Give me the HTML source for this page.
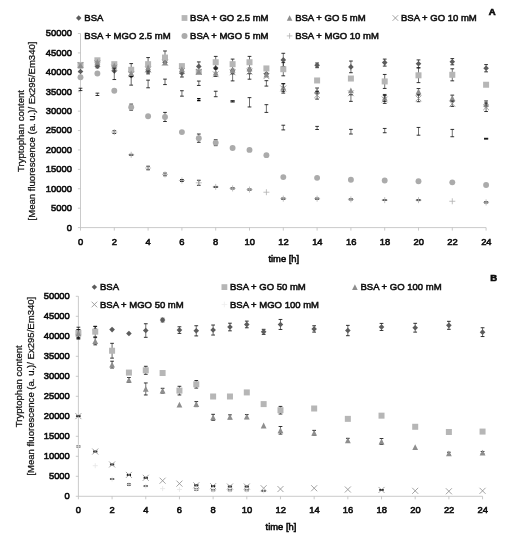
<!DOCTYPE html>
<html lang="en">
<head>
<meta charset="utf-8">
<title>Tryptophan content</title>
<style>
html,body{margin:0;padding:0;background:#fff;}
body{width:528px;height:550px;overflow:hidden;}
svg{display:block;}
text{font-family:'Liberation Sans', Arial, sans-serif;fill:#111;}
.tk{font-size:9.4px;stroke:#111;stroke-width:0.6px;}
.lg{font-size:9.5px;stroke:#111;stroke-width:0.55px;}
.xt{font-size:9.4px;stroke:#111;stroke-width:0.6px;}
.ax{font-size:9.55px;stroke:#111;stroke-width:0.25px;}
.pl{font-size:9.5px;font-weight:bold;stroke:#111;stroke-width:0.7px;}
</style>
</head>
<body>
<svg width="528" height="550" viewBox="0 0 528 550">
<defs><filter id="soft" x="0" y="0" width="100%" height="100%" filterUnits="userSpaceOnUse"><feGaussianBlur stdDeviation="0.35"/></filter></defs>
<rect width="528" height="550" fill="#fff"/>
<g filter="url(#soft)">
<path d="M80.50 33.50V227.60H486.10" stroke="#bcbcbc" stroke-width="0.8" fill="none"/>
<path d="M77.90 227.60H80.50M77.90 208.19H80.50M77.90 188.78H80.50M77.90 169.37H80.50M77.90 149.96H80.50M77.90 130.55H80.50M77.90 111.14H80.50M77.90 91.73H80.50M77.90 72.32H80.50M77.90 52.91H80.50M77.90 33.50H80.50M80.50 227.60V230.60M114.30 227.60V230.60M148.10 227.60V230.60M181.90 227.60V230.60M215.70 227.60V230.60M249.50 227.60V230.60M283.30 227.60V230.60M317.10 227.60V230.60M350.90 227.60V230.60M384.70 227.60V230.60M418.50 227.60V230.60M452.30 227.60V230.60M486.10 227.60V230.60" stroke="#bcbcbc" stroke-width="0.8" fill="none"/>
<text x="71.90" y="230.50" text-anchor="end" class="tk">0</text>
<text x="71.90" y="211.09" text-anchor="end" class="tk">5000</text>
<text x="71.90" y="191.68" text-anchor="end" class="tk">10000</text>
<text x="71.90" y="172.27" text-anchor="end" class="tk">15000</text>
<text x="71.90" y="152.86" text-anchor="end" class="tk">20000</text>
<text x="71.90" y="133.45" text-anchor="end" class="tk">25000</text>
<text x="71.90" y="114.04" text-anchor="end" class="tk">30000</text>
<text x="71.90" y="94.63" text-anchor="end" class="tk">35000</text>
<text x="71.90" y="75.22" text-anchor="end" class="tk">40000</text>
<text x="71.90" y="55.81" text-anchor="end" class="tk">45000</text>
<text x="71.90" y="36.40" text-anchor="end" class="tk">50000</text>
<text x="80.50" y="244.50" text-anchor="middle" class="tk">0</text>
<text x="114.30" y="244.50" text-anchor="middle" class="tk">2</text>
<text x="148.10" y="244.50" text-anchor="middle" class="tk">4</text>
<text x="181.90" y="244.50" text-anchor="middle" class="tk">6</text>
<text x="215.70" y="244.50" text-anchor="middle" class="tk">8</text>
<text x="249.75" y="244.50" text-anchor="middle" class="tk">10</text>
<text x="283.55" y="244.50" text-anchor="middle" class="tk">12</text>
<text x="317.35" y="244.50" text-anchor="middle" class="tk">14</text>
<text x="351.15" y="244.50" text-anchor="middle" class="tk">16</text>
<text x="384.95" y="244.50" text-anchor="middle" class="tk">18</text>
<text x="418.75" y="244.50" text-anchor="middle" class="tk">20</text>
<text x="452.55" y="244.50" text-anchor="middle" class="tk">22</text>
<text x="486.35" y="244.50" text-anchor="middle" class="tk">24</text>
<text x="283.80" y="261.70" text-anchor="middle" class="xt">time [h]</text>
<text transform="translate(23.5 131.00) rotate(-90)" text-anchor="middle" class="ax">Tryptophan content</text>
<text transform="translate(35.4 131.00) rotate(-90)" text-anchor="middle" class="ax">[Mean fluorescence (a. u.)/ Ex295/Em340]</text>
<path d="M80.50 68.74L83.30 71.54L80.50 74.34L77.70 71.54Z" fill="#5c5c5c"/>
<path d="M97.40 64.71V67.82" stroke="#101010" stroke-width="0.6" fill="none"/>
<path d="M95.55 64.71H99.25M95.55 67.82H99.25" stroke="#101010" stroke-width="0.85" fill="none"/>
<path d="M97.40 63.46L100.20 66.26L97.40 69.06L94.60 66.26Z" fill="#5c5c5c"/>
<path d="M114.30 68.16L117.10 70.96L114.30 73.76L111.50 70.96Z" fill="#5c5c5c"/>
<path d="M131.20 73.01L134.00 75.81L131.20 78.61L128.40 75.81Z" fill="#5c5c5c"/>
<path d="M148.10 69.21V73.87" stroke="#101010" stroke-width="0.6" fill="none"/>
<path d="M146.25 69.21H149.95M146.25 73.87H149.95" stroke="#101010" stroke-width="0.85" fill="none"/>
<path d="M148.10 68.74L150.90 71.54L148.10 74.34L145.30 71.54Z" fill="#5c5c5c"/>
<path d="M165.00 59.43L167.80 62.23L165.00 65.03L162.20 62.23Z" fill="#5c5c5c"/>
<path d="M181.90 69.21V76.98" stroke="#101010" stroke-width="0.6" fill="none"/>
<path d="M180.05 69.21H183.75M180.05 76.98H183.75" stroke="#101010" stroke-width="0.85" fill="none"/>
<path d="M181.90 70.30L184.70 73.10L181.90 75.90L179.10 73.10Z" fill="#5c5c5c"/>
<path d="M198.80 61.92V70.84" stroke="#101010" stroke-width="0.6" fill="none"/>
<path d="M196.95 61.92H200.65M196.95 70.84H200.65" stroke="#101010" stroke-width="0.85" fill="none"/>
<path d="M198.80 63.58L201.60 66.38L198.80 69.18L196.00 66.38Z" fill="#5c5c5c"/>
<path d="M215.70 65.25L218.50 68.05L215.70 70.85L212.90 68.05Z" fill="#5c5c5c"/>
<path d="M232.60 67.97L235.40 70.77L232.60 73.57L229.80 70.77Z" fill="#5c5c5c"/>
<path d="M249.50 67.19L252.30 69.99L249.50 72.79L246.70 69.99Z" fill="#5c5c5c"/>
<path d="M266.40 71.07L269.20 73.87L266.40 76.67L263.60 73.87Z" fill="#5c5c5c"/>
<path d="M283.30 53.30V66.50" stroke="#101010" stroke-width="0.6" fill="none"/>
<path d="M281.45 53.30H285.15M281.45 66.50H285.15" stroke="#101010" stroke-width="0.85" fill="none"/>
<path d="M283.30 57.10L286.10 59.90L283.30 62.70L280.50 59.90Z" fill="#5c5c5c"/>
<path d="M317.10 63.00V67.66" stroke="#101010" stroke-width="0.6" fill="none"/>
<path d="M315.25 63.00H318.95M315.25 67.66H318.95" stroke="#101010" stroke-width="0.85" fill="none"/>
<path d="M317.10 62.53L319.90 65.33L317.10 68.13L314.30 65.33Z" fill="#5c5c5c"/>
<path d="M350.90 61.06V72.71" stroke="#101010" stroke-width="0.6" fill="none"/>
<path d="M349.05 61.06H352.75M349.05 72.71H352.75" stroke="#101010" stroke-width="0.85" fill="none"/>
<path d="M350.90 64.09L353.70 66.89L350.90 69.69L348.10 66.89Z" fill="#5c5c5c"/>
<path d="M384.70 59.12V66.11" stroke="#101010" stroke-width="0.6" fill="none"/>
<path d="M382.85 59.12H386.55M382.85 66.11H386.55" stroke="#101010" stroke-width="0.85" fill="none"/>
<path d="M384.70 59.81L387.50 62.61L384.70 65.41L381.90 62.61Z" fill="#5c5c5c"/>
<path d="M418.50 59.90V67.66" stroke="#101010" stroke-width="0.6" fill="none"/>
<path d="M416.65 59.90H420.35M416.65 67.66H420.35" stroke="#101010" stroke-width="0.85" fill="none"/>
<path d="M418.50 60.98L421.30 63.78L418.50 66.58L415.70 63.78Z" fill="#5c5c5c"/>
<path d="M452.30 58.58V64.79" stroke="#101010" stroke-width="0.6" fill="none"/>
<path d="M450.45 58.58H454.15M450.45 64.79H454.15" stroke="#101010" stroke-width="0.85" fill="none"/>
<path d="M452.30 58.88L455.10 61.68L452.30 64.48L449.50 61.68Z" fill="#5c5c5c"/>
<path d="M486.10 64.59V71.82" stroke="#101010" stroke-width="0.6" fill="none"/>
<path d="M484.25 64.59H487.95M484.25 71.82H487.95" stroke="#101010" stroke-width="0.85" fill="none"/>
<path d="M486.10 65.41L488.90 68.21L486.10 71.01L483.30 68.21Z" fill="#5c5c5c"/>
<rect x="77.50" y="61.94" width="6.00" height="6.00" fill="#b6b6b6"/>
<rect x="94.40" y="57.29" width="6.00" height="6.00" fill="#b6b6b6"/>
<rect x="111.30" y="61.17" width="6.00" height="6.00" fill="#b6b6b6"/>
<path d="M131.20 63.59V76.01" stroke="#101010" stroke-width="0.6" fill="none"/>
<path d="M129.35 63.59H133.05M129.35 76.01H133.05" stroke="#101010" stroke-width="0.85" fill="none"/>
<rect x="128.20" y="66.80" width="6.00" height="6.00" fill="#b6b6b6"/>
<path d="M148.10 57.57V70.77" stroke="#101010" stroke-width="0.6" fill="none"/>
<path d="M146.25 57.57H149.95M146.25 70.77H149.95" stroke="#101010" stroke-width="0.85" fill="none"/>
<rect x="145.10" y="61.17" width="6.00" height="6.00" fill="#b6b6b6"/>
<path d="M165.00 50.97V64.17" stroke="#101010" stroke-width="0.6" fill="none"/>
<path d="M163.15 50.97H166.85M163.15 64.17H166.85" stroke="#101010" stroke-width="0.85" fill="none"/>
<rect x="162.00" y="54.57" width="6.00" height="6.00" fill="#b6b6b6"/>
<rect x="178.90" y="63.11" width="6.00" height="6.00" fill="#b6b6b6"/>
<rect x="195.80" y="68.82" width="6.00" height="6.00" fill="#b6b6b6"/>
<path d="M215.70 56.40V68.05" stroke="#101010" stroke-width="0.6" fill="none"/>
<path d="M213.85 56.40H217.55M213.85 68.05H217.55" stroke="#101010" stroke-width="0.85" fill="none"/>
<rect x="212.70" y="59.23" width="6.00" height="6.00" fill="#b6b6b6"/>
<path d="M232.60 59.12V69.21" stroke="#101010" stroke-width="0.6" fill="none"/>
<path d="M230.75 59.12H234.45M230.75 69.21H234.45" stroke="#101010" stroke-width="0.85" fill="none"/>
<rect x="229.60" y="61.17" width="6.00" height="6.00" fill="#b6b6b6"/>
<path d="M249.50 56.40V68.05" stroke="#101010" stroke-width="0.6" fill="none"/>
<path d="M247.65 56.40H251.35M247.65 68.05H251.35" stroke="#101010" stroke-width="0.85" fill="none"/>
<rect x="246.50" y="59.23" width="6.00" height="6.00" fill="#b6b6b6"/>
<rect x="263.40" y="65.44" width="6.00" height="6.00" fill="#b6b6b6"/>
<path d="M283.30 62.61V75.81" stroke="#101010" stroke-width="0.6" fill="none"/>
<path d="M281.45 62.61H285.15M281.45 75.81H285.15" stroke="#101010" stroke-width="0.85" fill="none"/>
<rect x="280.30" y="66.21" width="6.00" height="6.00" fill="#b6b6b6"/>
<rect x="314.10" y="77.47" width="6.00" height="6.00" fill="#b6b6b6"/>
<rect x="347.90" y="75.53" width="6.00" height="6.00" fill="#b6b6b6"/>
<path d="M384.70 74.46V88.43" stroke="#101010" stroke-width="0.6" fill="none"/>
<path d="M382.85 74.46H386.55M382.85 88.43H386.55" stroke="#101010" stroke-width="0.85" fill="none"/>
<rect x="381.70" y="78.44" width="6.00" height="6.00" fill="#b6b6b6"/>
<path d="M418.50 68.01V82.61" stroke="#101010" stroke-width="0.6" fill="none"/>
<path d="M416.65 68.01H420.35M416.65 82.61H420.35" stroke="#101010" stroke-width="0.85" fill="none"/>
<rect x="415.50" y="72.31" width="6.00" height="6.00" fill="#b6b6b6"/>
<path d="M452.30 68.79V80.82" stroke="#101010" stroke-width="0.6" fill="none"/>
<path d="M450.45 68.79H454.15M450.45 80.82H454.15" stroke="#101010" stroke-width="0.85" fill="none"/>
<rect x="449.30" y="71.80" width="6.00" height="6.00" fill="#b6b6b6"/>
<rect x="483.10" y="81.74" width="6.00" height="6.00" fill="#b6b6b6"/>
<path d="M80.50 62.82L83.40 68.62H77.60Z" fill="#8e8e8e"/>
<path d="M97.40 58.94L100.30 64.74H94.50Z" fill="#8e8e8e"/>
<path d="M114.30 62.82L117.20 68.62H111.40Z" fill="#8e8e8e"/>
<path d="M131.20 70.20L134.10 76.00H128.30Z" fill="#8e8e8e"/>
<path d="M148.10 64.37L151.00 70.17H145.20Z" fill="#8e8e8e"/>
<path d="M165.00 59.71L167.90 65.51H162.10Z" fill="#8e8e8e"/>
<path d="M181.90 66.31L184.80 72.11H179.00Z" fill="#8e8e8e"/>
<path d="M198.80 68.64L201.70 74.44H195.90Z" fill="#8e8e8e"/>
<path d="M215.70 69.02V76.40" stroke="#101010" stroke-width="0.6" fill="none"/>
<path d="M213.85 69.02H217.55M213.85 76.40H217.55" stroke="#101010" stroke-width="0.85" fill="none"/>
<path d="M215.70 69.81L218.60 75.61H212.80Z" fill="#8e8e8e"/>
<path d="M232.60 66.94L235.50 72.74H229.70Z" fill="#8e8e8e"/>
<path d="M249.50 65.62L252.40 71.42H246.60Z" fill="#8e8e8e"/>
<path d="M266.40 71.59L269.30 77.39H263.50Z" fill="#8e8e8e"/>
<path d="M283.30 83.58V91.34" stroke="#101010" stroke-width="0.6" fill="none"/>
<path d="M281.45 83.58H285.15M281.45 91.34H285.15" stroke="#101010" stroke-width="0.85" fill="none"/>
<path d="M283.30 84.56L286.20 90.36H280.40Z" fill="#8e8e8e"/>
<path d="M317.10 88.00V93.75" stroke="#101010" stroke-width="0.6" fill="none"/>
<path d="M315.25 88.00H318.95M315.25 93.75H318.95" stroke="#101010" stroke-width="0.85" fill="none"/>
<path d="M317.10 87.98L320.00 93.78H314.20Z" fill="#8e8e8e"/>
<path d="M350.90 87.47L353.80 93.27H348.00Z" fill="#8e8e8e"/>
<path d="M384.70 94.45V101.43" stroke="#101010" stroke-width="0.6" fill="none"/>
<path d="M382.85 94.45H386.55M382.85 101.43H386.55" stroke="#101010" stroke-width="0.85" fill="none"/>
<path d="M384.70 95.04L387.60 100.84H381.80Z" fill="#8e8e8e"/>
<path d="M418.50 88.55V94.29" stroke="#101010" stroke-width="0.6" fill="none"/>
<path d="M416.65 88.55H420.35M416.65 94.29H420.35" stroke="#101010" stroke-width="0.85" fill="none"/>
<path d="M418.50 88.52L421.40 94.32H415.60Z" fill="#8e8e8e"/>
<path d="M452.30 95.15V100.89" stroke="#101010" stroke-width="0.6" fill="none"/>
<path d="M450.45 95.15H454.15M450.45 100.89H454.15" stroke="#101010" stroke-width="0.85" fill="none"/>
<path d="M452.30 95.12L455.20 100.92H449.40Z" fill="#8e8e8e"/>
<path d="M486.10 100.93V106.68" stroke="#101010" stroke-width="0.6" fill="none"/>
<path d="M484.25 100.93H487.95M484.25 106.68H487.95" stroke="#101010" stroke-width="0.85" fill="none"/>
<path d="M486.10 100.90L489.00 106.70H483.20Z" fill="#8e8e8e"/>
<path d="M77.60 62.04L83.40 67.84M77.60 67.84L83.40 62.04" stroke="#8c8c8c" stroke-width="0.8" fill="none"/>
<path d="M94.50 60.49L100.30 66.29M94.50 66.29L100.30 60.49" stroke="#8c8c8c" stroke-width="0.8" fill="none"/>
<path d="M111.40 64.76L117.20 70.56M111.40 70.56L117.20 64.76" stroke="#8c8c8c" stroke-width="0.8" fill="none"/>
<path d="M128.30 71.36L134.10 77.16M128.30 77.16L134.10 71.36" stroke="#8c8c8c" stroke-width="0.8" fill="none"/>
<path d="M145.20 66.70L151.00 72.50M145.20 72.50L151.00 66.70" stroke="#8c8c8c" stroke-width="0.8" fill="none"/>
<path d="M162.10 59.68L167.90 65.48M162.10 65.48L167.90 59.68" stroke="#8c8c8c" stroke-width="0.8" fill="none"/>
<path d="M179.00 68.26L184.80 74.06M179.00 74.06L184.80 68.26" stroke="#8c8c8c" stroke-width="0.8" fill="none"/>
<path d="M195.90 69.03L201.70 74.83M195.90 74.83L201.70 69.03" stroke="#8c8c8c" stroke-width="0.8" fill="none"/>
<path d="M212.80 71.36L218.60 77.16M212.80 77.16L218.60 71.36" stroke="#8c8c8c" stroke-width="0.8" fill="none"/>
<path d="M229.70 69.42L235.50 75.22M229.70 75.22L235.50 69.42" stroke="#8c8c8c" stroke-width="0.8" fill="none"/>
<path d="M246.60 68.64L252.40 74.44M246.60 74.44L252.40 68.64" stroke="#8c8c8c" stroke-width="0.8" fill="none"/>
<path d="M263.50 73.30L269.30 79.10M263.50 79.10L269.30 73.30" stroke="#8c8c8c" stroke-width="0.8" fill="none"/>
<path d="M283.30 83.81V93.13" stroke="#101010" stroke-width="0.6" fill="none"/>
<path d="M281.45 83.81H285.15M281.45 93.13H285.15" stroke="#101010" stroke-width="0.85" fill="none"/>
<path d="M280.40 85.57L286.20 91.37M280.40 91.37L286.20 85.57" stroke="#8c8c8c" stroke-width="0.8" fill="none"/>
<path d="M317.10 91.34V99.11" stroke="#101010" stroke-width="0.6" fill="none"/>
<path d="M315.25 91.34H318.95M315.25 99.11H318.95" stroke="#101010" stroke-width="0.85" fill="none"/>
<path d="M314.20 92.32L320.00 98.12M314.20 98.12L320.00 92.32" stroke="#8c8c8c" stroke-width="0.8" fill="none"/>
<path d="M348.00 90.38L353.80 96.18M348.00 96.18L353.80 90.38" stroke="#8c8c8c" stroke-width="0.8" fill="none"/>
<path d="M384.70 95.61V103.38" stroke="#101010" stroke-width="0.6" fill="none"/>
<path d="M382.85 95.61H386.55M382.85 103.38H386.55" stroke="#101010" stroke-width="0.85" fill="none"/>
<path d="M381.80 96.59L387.60 102.39M381.80 102.39L387.60 96.59" stroke="#8c8c8c" stroke-width="0.8" fill="none"/>
<path d="M418.50 95.11V101.71" stroke="#101010" stroke-width="0.6" fill="none"/>
<path d="M416.65 95.11H420.35M416.65 101.71H420.35" stroke="#101010" stroke-width="0.85" fill="none"/>
<path d="M415.60 95.51L421.40 101.31M415.60 101.31L421.40 95.51" stroke="#8c8c8c" stroke-width="0.8" fill="none"/>
<path d="M452.30 101.12V106.40" stroke="#101010" stroke-width="0.6" fill="none"/>
<path d="M450.45 101.12H454.15M450.45 106.40H454.15" stroke="#101010" stroke-width="0.85" fill="none"/>
<path d="M449.40 100.86L455.20 106.66M449.40 106.66L455.20 100.86" stroke="#8c8c8c" stroke-width="0.8" fill="none"/>
<path d="M486.10 102.99V111.53" stroke="#101010" stroke-width="0.6" fill="none"/>
<path d="M484.25 102.99H487.95M484.25 111.53H487.95" stroke="#101010" stroke-width="0.85" fill="none"/>
<path d="M483.20 104.36L489.00 110.16M483.20 110.16L489.00 104.36" stroke="#8c8c8c" stroke-width="0.8" fill="none"/>
<path d="M198.80 81.09V85.44" stroke="#101010" stroke-width="0.6" fill="none"/>
<path d="M196.95 81.09H200.65M196.95 85.44H200.65" stroke="#101010" stroke-width="0.85" fill="none"/>
<path d="M232.60 73.87V80.86" stroke="#101010" stroke-width="0.6" fill="none"/>
<path d="M230.75 73.87H234.45M230.75 80.86H234.45" stroke="#101010" stroke-width="0.85" fill="none"/>
<path d="M249.50 73.76V79.19" stroke="#101010" stroke-width="0.6" fill="none"/>
<path d="M247.65 73.76H251.35M247.65 79.19H251.35" stroke="#101010" stroke-width="0.85" fill="none"/>
<path d="M266.40 80.67V86.10" stroke="#101010" stroke-width="0.6" fill="none"/>
<path d="M264.55 80.67H268.25M264.55 86.10H268.25" stroke="#101010" stroke-width="0.85" fill="none"/>
<path d="M350.90 94.76V101.36" stroke="#101010" stroke-width="0.6" fill="none"/>
<path d="M349.05 94.76H352.75M349.05 101.36H352.75" stroke="#101010" stroke-width="0.85" fill="none"/>
<path d="M80.50 88.24V90.57" stroke="#101010" stroke-width="0.6" fill="none"/>
<path d="M78.65 88.24H82.35M78.65 90.57H82.35" stroke="#101010" stroke-width="0.85" fill="none"/>
<path d="M97.40 93.17V95.50" stroke="#101010" stroke-width="0.6" fill="none"/>
<path d="M95.55 93.17H99.25M95.55 95.50H99.25" stroke="#101010" stroke-width="0.85" fill="none"/>
<path d="M114.30 68.21V79.54" stroke="#101010" stroke-width="0.6" fill="none"/>
<path d="M112.45 68.21H116.15M112.45 79.54H116.15" stroke="#101010" stroke-width="0.85" fill="none"/>
<path d="M131.20 76.59V85.13" stroke="#101010" stroke-width="0.6" fill="none"/>
<path d="M129.35 76.59H133.05M129.35 85.13H133.05" stroke="#101010" stroke-width="0.85" fill="none"/>
<path d="M148.10 80.16V87.77" stroke="#101010" stroke-width="0.6" fill="none"/>
<path d="M146.25 80.16H149.95M146.25 87.77H149.95" stroke="#101010" stroke-width="0.85" fill="none"/>
<path d="M165.00 79.15V84.59" stroke="#101010" stroke-width="0.6" fill="none"/>
<path d="M163.15 79.15H166.85M163.15 84.59H166.85" stroke="#101010" stroke-width="0.85" fill="none"/>
<path d="M181.90 90.72V96.16" stroke="#101010" stroke-width="0.6" fill="none"/>
<path d="M180.05 90.72H183.75M180.05 96.16H183.75" stroke="#101010" stroke-width="0.85" fill="none"/>
<path d="M198.80 98.72V100.50" stroke="#000" stroke-width="0.6" fill="none"/>
<path d="M197.10 98.72H200.50M197.10 100.50H200.50" stroke="#000" stroke-width="1.25" fill="none"/>
<path d="M215.70 91.26V96.70" stroke="#101010" stroke-width="0.6" fill="none"/>
<path d="M213.85 91.26H217.55M213.85 96.70H217.55" stroke="#101010" stroke-width="0.85" fill="none"/>
<path d="M232.60 100.78V101.94" stroke="#000" stroke-width="0.6" fill="none"/>
<path d="M230.50 100.78H234.70M230.50 101.94H234.70" stroke="#000" stroke-width="1.0" fill="none"/>
<path d="M249.50 97.63V106.95" stroke="#101010" stroke-width="0.6" fill="none"/>
<path d="M247.65 97.63H251.35M247.65 106.95H251.35" stroke="#101010" stroke-width="0.85" fill="none"/>
<path d="M266.40 104.66V112.42" stroke="#101010" stroke-width="0.6" fill="none"/>
<path d="M264.55 104.66H268.25M264.55 112.42H268.25" stroke="#101010" stroke-width="0.85" fill="none"/>
<path d="M283.30 125.23V129.89" stroke="#101010" stroke-width="0.6" fill="none"/>
<path d="M281.45 125.23H285.15M281.45 129.89H285.15" stroke="#101010" stroke-width="0.85" fill="none"/>
<path d="M317.10 126.40V129.50" stroke="#101010" stroke-width="0.6" fill="none"/>
<path d="M315.25 126.40H318.95M315.25 129.50H318.95" stroke="#101010" stroke-width="0.85" fill="none"/>
<path d="M350.90 129.39V134.04" stroke="#101010" stroke-width="0.6" fill="none"/>
<path d="M349.05 129.39H352.75M349.05 134.04H352.75" stroke="#101010" stroke-width="0.85" fill="none"/>
<path d="M384.70 128.45V132.72" stroke="#101010" stroke-width="0.6" fill="none"/>
<path d="M382.85 128.45H386.55M382.85 132.72H386.55" stroke="#101010" stroke-width="0.85" fill="none"/>
<path d="M418.50 127.44V135.21" stroke="#101010" stroke-width="0.6" fill="none"/>
<path d="M416.65 127.44H420.35M416.65 135.21H420.35" stroke="#101010" stroke-width="0.85" fill="none"/>
<path d="M452.30 129.42V136.72" stroke="#101010" stroke-width="0.6" fill="none"/>
<path d="M450.45 129.42H454.15M450.45 136.72H454.15" stroke="#101010" stroke-width="0.85" fill="none"/>
<path d="M486.10 138.31V139.09" stroke="#000" stroke-width="0.6" fill="none"/>
<path d="M484.00 138.31H488.20M484.00 139.09H488.20" stroke="#000" stroke-width="1.0" fill="none"/>
<circle cx="80.50" cy="77.21" r="2.95" fill="#ababab"/>
<circle cx="97.40" cy="73.48" r="2.95" fill="#ababab"/>
<circle cx="114.30" cy="90.76" r="2.95" fill="#ababab"/>
<path d="M131.20 104.11V110.17" stroke="#101010" stroke-width="0.6" fill="none"/>
<path d="M129.35 104.11H133.05M129.35 110.17H133.05" stroke="#101010" stroke-width="0.85" fill="none"/>
<circle cx="131.20" cy="107.14" r="2.95" fill="#ababab"/>
<circle cx="148.10" cy="116.23" r="2.95" fill="#ababab"/>
<path d="M165.00 112.42V121.50" stroke="#101010" stroke-width="0.6" fill="none"/>
<path d="M163.15 112.42H166.85M163.15 121.50H166.85" stroke="#101010" stroke-width="0.85" fill="none"/>
<circle cx="165.00" cy="116.96" r="2.95" fill="#ababab"/>
<circle cx="181.90" cy="132.10" r="2.95" fill="#ababab"/>
<path d="M198.80 134.00V142.31" stroke="#101010" stroke-width="0.6" fill="none"/>
<path d="M196.95 134.00H200.65M196.95 142.31H200.65" stroke="#101010" stroke-width="0.85" fill="none"/>
<circle cx="198.80" cy="138.16" r="2.95" fill="#ababab"/>
<path d="M215.70 139.75V145.65" stroke="#101010" stroke-width="0.6" fill="none"/>
<path d="M213.85 139.75H217.55M213.85 145.65H217.55" stroke="#101010" stroke-width="0.85" fill="none"/>
<circle cx="215.70" cy="142.70" r="2.95" fill="#ababab"/>
<circle cx="232.60" cy="147.98" r="2.95" fill="#ababab"/>
<circle cx="249.50" cy="149.88" r="2.95" fill="#ababab"/>
<circle cx="266.40" cy="155.16" r="2.95" fill="#ababab"/>
<circle cx="283.30" cy="177.10" r="2.95" fill="#ababab"/>
<circle cx="317.10" cy="177.87" r="2.95" fill="#ababab"/>
<circle cx="350.90" cy="179.73" r="2.95" fill="#ababab"/>
<circle cx="384.70" cy="180.51" r="2.95" fill="#ababab"/>
<circle cx="418.50" cy="181.25" r="2.95" fill="#ababab"/>
<circle cx="452.30" cy="182.37" r="2.95" fill="#ababab"/>
<circle cx="486.10" cy="185.05" r="2.95" fill="#ababab"/>
<path d="M114.30 130.74V133.46" stroke="#101010" stroke-width="0.6" fill="none"/>
<path d="M112.45 130.74H116.15M112.45 133.46H116.15" stroke="#101010" stroke-width="0.85" fill="none"/>
<path d="M111.30 132.10H117.30M114.30 129.10V135.10" stroke="#b0b0b0" stroke-width="0.8" fill="none"/>
<path d="M131.20 154.35V155.20" stroke="#000" stroke-width="0.6" fill="none"/>
<path d="M129.10 154.35H133.30M129.10 155.20H133.30" stroke="#000" stroke-width="1.0" fill="none"/>
<path d="M128.20 154.77H134.20M131.20 151.77V157.77" stroke="#b0b0b0" stroke-width="0.8" fill="none"/>
<path d="M148.10 166.26V169.76" stroke="#101010" stroke-width="0.6" fill="none"/>
<path d="M146.25 166.26H149.95M146.25 169.76H149.95" stroke="#101010" stroke-width="0.85" fill="none"/>
<path d="M145.10 168.01H151.10M148.10 165.01V171.01" stroke="#b0b0b0" stroke-width="0.8" fill="none"/>
<path d="M165.00 173.06V175.78" stroke="#101010" stroke-width="0.6" fill="none"/>
<path d="M163.15 173.06H166.85M163.15 175.78H166.85" stroke="#101010" stroke-width="0.85" fill="none"/>
<path d="M162.00 174.42H168.00M165.00 171.42V177.42" stroke="#b0b0b0" stroke-width="0.8" fill="none"/>
<path d="M181.90 179.54V181.48" stroke="#000" stroke-width="0.6" fill="none"/>
<path d="M180.20 179.54H183.60M180.20 181.48H183.60" stroke="#000" stroke-width="1.25" fill="none"/>
<path d="M178.90 180.51H184.90M181.90 177.51V183.51" stroke="#b0b0b0" stroke-width="0.8" fill="none"/>
<path d="M198.80 180.28V185.33" stroke="#101010" stroke-width="0.6" fill="none"/>
<path d="M196.95 180.28H200.65M196.95 185.33H200.65" stroke="#101010" stroke-width="0.85" fill="none"/>
<path d="M195.80 182.80H201.80M198.80 179.80V185.80" stroke="#b0b0b0" stroke-width="0.8" fill="none"/>
<path d="M215.70 186.45V187.38" stroke="#000" stroke-width="0.6" fill="none"/>
<path d="M213.60 186.45H217.80M213.60 187.38H217.80" stroke="#000" stroke-width="1.0" fill="none"/>
<path d="M212.70 186.92H218.70M215.70 183.92V189.92" stroke="#b0b0b0" stroke-width="0.8" fill="none"/>
<path d="M232.60 187.96V188.90" stroke="#000" stroke-width="0.6" fill="none"/>
<path d="M230.50 187.96H234.70M230.50 188.90H234.70" stroke="#000" stroke-width="1.0" fill="none"/>
<path d="M229.60 188.43H235.60M232.60 185.43V191.43" stroke="#b0b0b0" stroke-width="0.8" fill="none"/>
<path d="M249.50 189.09V190.02" stroke="#000" stroke-width="0.6" fill="none"/>
<path d="M247.40 189.09H251.60M247.40 190.02H251.60" stroke="#000" stroke-width="1.0" fill="none"/>
<path d="M246.50 189.56H252.50M249.50 186.56V192.56" stroke="#b0b0b0" stroke-width="0.8" fill="none"/>
<path d="M263.40 192.23H269.40M266.40 189.23V195.23" stroke="#b0b0b0" stroke-width="0.8" fill="none"/>
<path d="M283.30 198.14V199.14" stroke="#000" stroke-width="0.6" fill="none"/>
<path d="M281.20 198.14H285.40M281.20 199.14H285.40" stroke="#000" stroke-width="1.0" fill="none"/>
<path d="M280.30 198.64H286.30M283.30 195.64V201.64" stroke="#b0b0b0" stroke-width="0.8" fill="none"/>
<path d="M317.10 198.17V199.11" stroke="#000" stroke-width="0.6" fill="none"/>
<path d="M315.00 198.17H319.20M315.00 199.11H319.20" stroke="#000" stroke-width="1.0" fill="none"/>
<path d="M314.10 198.64H320.10M317.10 195.64V201.64" stroke="#b0b0b0" stroke-width="0.8" fill="none"/>
<path d="M350.90 198.99V199.84" stroke="#000" stroke-width="0.6" fill="none"/>
<path d="M348.80 198.99H353.00M348.80 199.84H353.00" stroke="#000" stroke-width="1.0" fill="none"/>
<path d="M347.90 199.42H353.90M350.90 196.42V202.42" stroke="#b0b0b0" stroke-width="0.8" fill="none"/>
<path d="M384.70 199.80V200.50" stroke="#000" stroke-width="0.6" fill="none"/>
<path d="M382.60 199.80H386.80M382.60 200.50H386.80" stroke="#000" stroke-width="1.0" fill="none"/>
<path d="M381.70 200.15H387.70M384.70 197.15V203.15" stroke="#b0b0b0" stroke-width="0.8" fill="none"/>
<path d="M418.50 199.73V200.58" stroke="#000" stroke-width="0.6" fill="none"/>
<path d="M416.40 199.73H420.60M416.40 200.58H420.60" stroke="#000" stroke-width="1.0" fill="none"/>
<path d="M415.50 200.15H421.50M418.50 197.15V203.15" stroke="#b0b0b0" stroke-width="0.8" fill="none"/>
<path d="M449.30 201.28H455.30M452.30 198.28V204.28" stroke="#b0b0b0" stroke-width="0.8" fill="none"/>
<path d="M486.10 201.94V202.87" stroke="#000" stroke-width="0.6" fill="none"/>
<path d="M484.00 201.94H488.20M484.00 202.87H488.20" stroke="#000" stroke-width="1.0" fill="none"/>
<path d="M483.10 202.41H489.10M486.10 199.41V205.41" stroke="#b0b0b0" stroke-width="0.8" fill="none"/>
<path d="M78.70 15.30L81.40 18.00L78.70 20.70L76.00 18.00Z" fill="#5c5c5c"/>
<text x="84.30" y="21.30" class="lg">BSA</text>
<rect x="181.60" y="15.10" width="5.80" height="5.80" fill="#b6b6b6"/>
<text x="190.10" y="21.30" class="lg">BSA + GO 2.5 mM</text>
<path d="M289.60 15.20L292.40 20.80H286.80Z" fill="#8e8e8e"/>
<text x="295.20" y="21.30" class="lg">BSA + GO 5 mM</text>
<path d="M392.60 15.20L398.20 20.80M392.60 20.80L398.20 15.20" stroke="#8c8c8c" stroke-width="0.8" fill="none"/>
<text x="401.00" y="21.30" class="lg">BSA + GO 10 mM</text>
<text x="84.30" y="39.20" class="lg">BSA + MGO 2.5 mM</text>
<circle cx="184.50" cy="35.90" r="3.0" fill="#ababab"/>
<text x="190.10" y="39.20" class="lg">BSA + MGO 5 mM</text>
<path d="M286.80 35.90H292.40M289.60 33.10V38.70" stroke="#b0b0b0" stroke-width="0.8" fill="none"/>
<text x="295.20" y="39.20" class="lg">BSA + MGO 10 mM</text>
<text x="488.8" y="14.5" class="pl">A</text>
<path d="M78.40 296.30V496.30H482.56" stroke="#bcbcbc" stroke-width="0.8" fill="none"/>
<path d="M75.80 496.30H78.40M75.80 476.30H78.40M75.80 456.30H78.40M75.80 436.30H78.40M75.80 416.30H78.40M75.80 396.30H78.40M75.80 376.30H78.40M75.80 356.30H78.40M75.80 336.30H78.40M75.80 316.30H78.40M75.80 296.30H78.40M78.40 496.30V499.30M112.08 496.30V499.30M145.76 496.30V499.30M179.44 496.30V499.30M213.12 496.30V499.30M246.80 496.30V499.30M280.48 496.30V499.30M314.16 496.30V499.30M347.84 496.30V499.30M381.52 496.30V499.30M415.20 496.30V499.30M448.88 496.30V499.30M482.56 496.30V499.30" stroke="#bcbcbc" stroke-width="0.8" fill="none"/>
<text x="69.80" y="499.20" text-anchor="end" class="tk">0</text>
<text x="69.80" y="479.20" text-anchor="end" class="tk">5000</text>
<text x="69.80" y="459.20" text-anchor="end" class="tk">10000</text>
<text x="69.80" y="439.20" text-anchor="end" class="tk">15000</text>
<text x="69.80" y="419.20" text-anchor="end" class="tk">20000</text>
<text x="69.80" y="399.20" text-anchor="end" class="tk">25000</text>
<text x="69.80" y="379.20" text-anchor="end" class="tk">30000</text>
<text x="69.80" y="359.20" text-anchor="end" class="tk">35000</text>
<text x="69.80" y="339.20" text-anchor="end" class="tk">40000</text>
<text x="69.80" y="319.20" text-anchor="end" class="tk">45000</text>
<text x="69.80" y="299.20" text-anchor="end" class="tk">50000</text>
<text x="78.40" y="512.90" text-anchor="middle" class="tk">0</text>
<text x="112.08" y="512.90" text-anchor="middle" class="tk">2</text>
<text x="145.76" y="512.90" text-anchor="middle" class="tk">4</text>
<text x="179.44" y="512.90" text-anchor="middle" class="tk">6</text>
<text x="213.12" y="512.90" text-anchor="middle" class="tk">8</text>
<text x="247.05" y="512.90" text-anchor="middle" class="tk">10</text>
<text x="280.73" y="512.90" text-anchor="middle" class="tk">12</text>
<text x="314.41" y="512.90" text-anchor="middle" class="tk">14</text>
<text x="348.09" y="512.90" text-anchor="middle" class="tk">16</text>
<text x="381.77" y="512.90" text-anchor="middle" class="tk">18</text>
<text x="415.45" y="512.90" text-anchor="middle" class="tk">20</text>
<text x="449.13" y="512.90" text-anchor="middle" class="tk">22</text>
<text x="482.81" y="512.90" text-anchor="middle" class="tk">24</text>
<text x="280.98" y="529.80" text-anchor="middle" class="xt">time [h]</text>
<text transform="translate(22.0 386.20) rotate(-90)" text-anchor="middle" class="ax">Tryptophan content</text>
<text transform="translate(34.0 386.20) rotate(-90)" text-anchor="middle" class="ax">[Mean fluorescence (a. u.)/ Ex295/Em340]</text>
<path d="M78.40 329.50V339.10" stroke="#101010" stroke-width="0.6" fill="none"/>
<path d="M76.55 329.50H80.25M76.55 339.10H80.25" stroke="#101010" stroke-width="0.85" fill="none"/>
<path d="M78.40 331.50L81.20 334.30L78.40 337.10L75.60 334.30Z" fill="#5c5c5c"/>
<path d="M95.24 326.30V333.50" stroke="#101010" stroke-width="0.6" fill="none"/>
<path d="M93.39 326.30H97.09M93.39 333.50H97.09" stroke="#101010" stroke-width="0.85" fill="none"/>
<path d="M95.24 327.10L98.04 329.90L95.24 332.70L92.44 329.90Z" fill="#5c5c5c"/>
<path d="M112.08 326.82L114.88 329.62L112.08 332.42L109.28 329.62Z" fill="#5c5c5c"/>
<path d="M128.92 330.70L131.72 333.50L128.92 336.30L126.12 333.50Z" fill="#5c5c5c"/>
<path d="M145.76 323.74V337.34" stroke="#101010" stroke-width="0.6" fill="none"/>
<path d="M143.91 323.74H147.61M143.91 337.34H147.61" stroke="#101010" stroke-width="0.85" fill="none"/>
<path d="M145.76 327.74L148.56 330.54L145.76 333.34L142.96 330.54Z" fill="#5c5c5c"/>
<path d="M162.60 318.26V321.86" stroke="#101010" stroke-width="0.6" fill="none"/>
<path d="M160.75 318.26H164.45M160.75 321.86H164.45" stroke="#101010" stroke-width="0.85" fill="none"/>
<path d="M162.60 317.26L165.40 320.06L162.60 322.86L159.80 320.06Z" fill="#5c5c5c"/>
<path d="M179.44 326.78V333.42" stroke="#101010" stroke-width="0.6" fill="none"/>
<path d="M177.59 326.78H181.29M177.59 333.42H181.29" stroke="#101010" stroke-width="0.85" fill="none"/>
<path d="M179.44 327.30L182.24 330.10L179.44 332.90L176.64 330.10Z" fill="#5c5c5c"/>
<path d="M196.28 325.74V335.90" stroke="#101010" stroke-width="0.6" fill="none"/>
<path d="M194.43 325.74H198.13M194.43 335.90H198.13" stroke="#101010" stroke-width="0.85" fill="none"/>
<path d="M196.28 328.02L199.08 330.82L196.28 333.62L193.48 330.82Z" fill="#5c5c5c"/>
<path d="M213.12 325.06V335.06" stroke="#101010" stroke-width="0.6" fill="none"/>
<path d="M211.27 325.06H214.97M211.27 335.06H214.97" stroke="#101010" stroke-width="0.85" fill="none"/>
<path d="M213.12 327.26L215.92 330.06L213.12 332.86L210.32 330.06Z" fill="#5c5c5c"/>
<path d="M229.96 323.22V330.82" stroke="#101010" stroke-width="0.6" fill="none"/>
<path d="M228.11 323.22H231.81M228.11 330.82H231.81" stroke="#101010" stroke-width="0.85" fill="none"/>
<path d="M229.96 324.22L232.76 327.02L229.96 329.82L227.16 327.02Z" fill="#5c5c5c"/>
<path d="M246.80 321.14V327.78" stroke="#101010" stroke-width="0.6" fill="none"/>
<path d="M244.95 321.14H248.65M244.95 327.78H248.65" stroke="#101010" stroke-width="0.85" fill="none"/>
<path d="M246.80 321.66L249.60 324.46L246.80 327.26L244.00 324.46Z" fill="#5c5c5c"/>
<path d="M263.64 329.34V334.38" stroke="#101010" stroke-width="0.6" fill="none"/>
<path d="M261.79 329.34H265.49M261.79 334.38H265.49" stroke="#101010" stroke-width="0.85" fill="none"/>
<path d="M263.64 329.06L266.44 331.86L263.64 334.66L260.84 331.86Z" fill="#5c5c5c"/>
<path d="M280.48 319.46V329.46" stroke="#101010" stroke-width="0.6" fill="none"/>
<path d="M278.63 319.46H282.33M278.63 329.46H282.33" stroke="#101010" stroke-width="0.85" fill="none"/>
<path d="M280.48 321.66L283.28 324.46L280.48 327.26L277.68 324.46Z" fill="#5c5c5c"/>
<path d="M314.16 325.74V332.14" stroke="#101010" stroke-width="0.6" fill="none"/>
<path d="M312.31 325.74H316.01M312.31 332.14H316.01" stroke="#101010" stroke-width="0.85" fill="none"/>
<path d="M314.16 326.14L316.96 328.94L314.16 331.74L311.36 328.94Z" fill="#5c5c5c"/>
<path d="M347.84 325.38V335.70" stroke="#101010" stroke-width="0.6" fill="none"/>
<path d="M345.99 325.38H349.69M345.99 335.70H349.69" stroke="#101010" stroke-width="0.85" fill="none"/>
<path d="M347.84 327.74L350.64 330.54L347.84 333.34L345.04 330.54Z" fill="#5c5c5c"/>
<path d="M381.52 323.42V330.46" stroke="#101010" stroke-width="0.6" fill="none"/>
<path d="M379.67 323.42H383.37M379.67 330.46H383.37" stroke="#101010" stroke-width="0.85" fill="none"/>
<path d="M381.52 324.14L384.32 326.94L381.52 329.74L378.72 326.94Z" fill="#5c5c5c"/>
<path d="M415.20 323.34V332.14" stroke="#101010" stroke-width="0.6" fill="none"/>
<path d="M413.35 323.34H417.05M413.35 332.14H417.05" stroke="#101010" stroke-width="0.85" fill="none"/>
<path d="M415.20 324.94L418.00 327.74L415.20 330.54L412.40 327.74Z" fill="#5c5c5c"/>
<path d="M448.88 321.34V329.34" stroke="#101010" stroke-width="0.6" fill="none"/>
<path d="M447.03 321.34H450.73M447.03 329.34H450.73" stroke="#101010" stroke-width="0.85" fill="none"/>
<path d="M448.88 322.54L451.68 325.34L448.88 328.14L446.08 325.34Z" fill="#5c5c5c"/>
<path d="M482.56 327.74V336.54" stroke="#101010" stroke-width="0.6" fill="none"/>
<path d="M480.71 327.74H484.41M480.71 336.54H484.41" stroke="#101010" stroke-width="0.85" fill="none"/>
<path d="M482.56 329.34L485.36 332.14L482.56 334.94L479.76 332.14Z" fill="#5c5c5c"/>
<path d="M78.40 327.22V338.42" stroke="#101010" stroke-width="0.6" fill="none"/>
<path d="M76.55 327.22H80.25M76.55 338.42H80.25" stroke="#101010" stroke-width="0.85" fill="none"/>
<rect x="75.40" y="329.82" width="6.00" height="6.00" fill="#b6b6b6"/>
<path d="M95.24 326.46V336.86" stroke="#101010" stroke-width="0.6" fill="none"/>
<path d="M93.39 326.46H97.09M93.39 336.86H97.09" stroke="#101010" stroke-width="0.85" fill="none"/>
<rect x="92.24" y="328.66" width="6.00" height="6.00" fill="#b6b6b6"/>
<path d="M112.08 343.34V358.14" stroke="#101010" stroke-width="0.6" fill="none"/>
<path d="M110.23 343.34H113.93M110.23 358.14H113.93" stroke="#101010" stroke-width="0.85" fill="none"/>
<rect x="109.08" y="347.74" width="6.00" height="6.00" fill="#b6b6b6"/>
<rect x="125.92" y="369.58" width="6.00" height="6.00" fill="#b6b6b6"/>
<path d="M145.76 366.30V374.30" stroke="#101010" stroke-width="0.6" fill="none"/>
<path d="M143.91 366.30H147.61M143.91 374.30H147.61" stroke="#101010" stroke-width="0.85" fill="none"/>
<rect x="142.76" y="367.30" width="6.00" height="6.00" fill="#b6b6b6"/>
<rect x="159.60" y="370.02" width="6.00" height="6.00" fill="#b6b6b6"/>
<path d="M179.44 386.30V394.94" stroke="#101010" stroke-width="0.6" fill="none"/>
<path d="M177.59 386.30H181.29M177.59 394.94H181.29" stroke="#101010" stroke-width="0.85" fill="none"/>
<rect x="176.44" y="387.62" width="6.00" height="6.00" fill="#b6b6b6"/>
<path d="M196.28 380.50V388.10" stroke="#101010" stroke-width="0.6" fill="none"/>
<path d="M194.43 380.50H198.13M194.43 388.10H198.13" stroke="#101010" stroke-width="0.85" fill="none"/>
<rect x="193.28" y="381.30" width="6.00" height="6.00" fill="#b6b6b6"/>
<rect x="210.12" y="393.50" width="6.00" height="6.00" fill="#b6b6b6"/>
<rect x="226.96" y="393.50" width="6.00" height="6.00" fill="#b6b6b6"/>
<rect x="243.80" y="389.42" width="6.00" height="6.00" fill="#b6b6b6"/>
<rect x="260.64" y="401.10" width="6.00" height="6.00" fill="#b6b6b6"/>
<path d="M280.48 406.42V414.02" stroke="#101010" stroke-width="0.6" fill="none"/>
<path d="M278.63 406.42H282.33M278.63 414.02H282.33" stroke="#101010" stroke-width="0.85" fill="none"/>
<rect x="277.48" y="407.22" width="6.00" height="6.00" fill="#b6b6b6"/>
<rect x="311.16" y="405.50" width="6.00" height="6.00" fill="#b6b6b6"/>
<rect x="344.84" y="415.86" width="6.00" height="6.00" fill="#b6b6b6"/>
<rect x="378.52" y="412.66" width="6.00" height="6.00" fill="#b6b6b6"/>
<rect x="412.20" y="423.78" width="6.00" height="6.00" fill="#b6b6b6"/>
<rect x="445.88" y="428.98" width="6.00" height="6.00" fill="#b6b6b6"/>
<rect x="479.56" y="428.58" width="6.00" height="6.00" fill="#b6b6b6"/>
<path d="M78.40 329.50V337.50" stroke="#101010" stroke-width="0.6" fill="none"/>
<path d="M76.55 329.50H80.25M76.55 337.50H80.25" stroke="#101010" stroke-width="0.85" fill="none"/>
<path d="M78.40 330.60L81.30 336.40H75.50Z" fill="#8e8e8e"/>
<path d="M95.24 337.62V344.82" stroke="#101010" stroke-width="0.6" fill="none"/>
<path d="M93.39 337.62H97.09M93.39 344.82H97.09" stroke="#101010" stroke-width="0.85" fill="none"/>
<path d="M95.24 338.32L98.14 344.12H92.34Z" fill="#8e8e8e"/>
<path d="M112.08 361.22V368.02" stroke="#101010" stroke-width="0.6" fill="none"/>
<path d="M110.23 361.22H113.93M110.23 368.02H113.93" stroke="#101010" stroke-width="0.85" fill="none"/>
<path d="M112.08 361.72L114.98 367.52H109.18Z" fill="#8e8e8e"/>
<path d="M128.92 377.50V382.30" stroke="#101010" stroke-width="0.6" fill="none"/>
<path d="M127.07 377.50H130.77M127.07 382.30H130.77" stroke="#101010" stroke-width="0.85" fill="none"/>
<path d="M128.92 377.00L131.82 382.80H126.02Z" fill="#8e8e8e"/>
<path d="M145.76 382.94V394.94" stroke="#101010" stroke-width="0.6" fill="none"/>
<path d="M143.91 382.94H147.61M143.91 394.94H147.61" stroke="#101010" stroke-width="0.85" fill="none"/>
<path d="M145.76 386.04L148.66 391.84H142.86Z" fill="#8e8e8e"/>
<path d="M162.60 388.30V393.10" stroke="#101010" stroke-width="0.6" fill="none"/>
<path d="M160.75 388.30H164.45M160.75 393.10H164.45" stroke="#101010" stroke-width="0.85" fill="none"/>
<path d="M162.60 387.80L165.50 393.60H159.70Z" fill="#8e8e8e"/>
<path d="M179.44 401.72L182.34 407.52H176.54Z" fill="#8e8e8e"/>
<path d="M196.28 401.58V406.62" stroke="#101010" stroke-width="0.6" fill="none"/>
<path d="M194.43 401.58H198.13M194.43 406.62H198.13" stroke="#101010" stroke-width="0.85" fill="none"/>
<path d="M196.28 401.20L199.18 407.00H193.38Z" fill="#8e8e8e"/>
<path d="M213.12 414.34V420.34" stroke="#101010" stroke-width="0.6" fill="none"/>
<path d="M211.27 414.34H214.97M211.27 420.34H214.97" stroke="#101010" stroke-width="0.85" fill="none"/>
<path d="M213.12 414.44L216.02 420.24H210.22Z" fill="#8e8e8e"/>
<path d="M229.96 414.82V418.82" stroke="#101010" stroke-width="0.6" fill="none"/>
<path d="M228.11 414.82H231.81M228.11 418.82H231.81" stroke="#101010" stroke-width="0.85" fill="none"/>
<path d="M229.96 413.92L232.86 419.72H227.06Z" fill="#8e8e8e"/>
<path d="M246.80 414.58V418.58" stroke="#101010" stroke-width="0.6" fill="none"/>
<path d="M244.95 414.58H248.65M244.95 418.58H248.65" stroke="#101010" stroke-width="0.85" fill="none"/>
<path d="M246.80 413.68L249.70 419.48H243.90Z" fill="#8e8e8e"/>
<path d="M263.64 422.60L266.54 428.40H260.74Z" fill="#8e8e8e"/>
<path d="M280.48 426.50V434.10" stroke="#101010" stroke-width="0.6" fill="none"/>
<path d="M278.63 426.50H282.33M278.63 434.10H282.33" stroke="#101010" stroke-width="0.85" fill="none"/>
<path d="M280.48 427.40L283.38 433.20H277.58Z" fill="#8e8e8e"/>
<path d="M314.16 430.38V435.18" stroke="#101010" stroke-width="0.6" fill="none"/>
<path d="M312.31 430.38H316.01M312.31 435.18H316.01" stroke="#101010" stroke-width="0.85" fill="none"/>
<path d="M314.16 429.88L317.06 435.68H311.26Z" fill="#8e8e8e"/>
<path d="M347.84 438.34V442.34" stroke="#101010" stroke-width="0.6" fill="none"/>
<path d="M345.99 438.34H349.69M345.99 442.34H349.69" stroke="#101010" stroke-width="0.85" fill="none"/>
<path d="M347.84 437.44L350.74 443.24H344.94Z" fill="#8e8e8e"/>
<path d="M381.52 438.50V444.50" stroke="#101010" stroke-width="0.6" fill="none"/>
<path d="M379.67 438.50H383.37M379.67 444.50H383.37" stroke="#101010" stroke-width="0.85" fill="none"/>
<path d="M381.52 438.60L384.42 444.40H378.62Z" fill="#8e8e8e"/>
<path d="M415.20 444.16L418.10 449.96H412.30Z" fill="#8e8e8e"/>
<path d="M448.88 452.26V454.66" stroke="#101010" stroke-width="0.6" fill="none"/>
<path d="M447.03 452.26H450.73M447.03 454.66H450.73" stroke="#101010" stroke-width="0.85" fill="none"/>
<path d="M448.88 450.56L451.78 456.36H445.98Z" fill="#8e8e8e"/>
<path d="M482.56 451.46V453.86" stroke="#101010" stroke-width="0.6" fill="none"/>
<path d="M480.71 451.46H484.41M480.71 453.86H484.41" stroke="#101010" stroke-width="0.85" fill="none"/>
<path d="M482.56 449.76L485.46 455.56H479.66Z" fill="#8e8e8e"/>
<path d="M78.40 415.70V416.58" stroke="#000" stroke-width="0.6" fill="none"/>
<path d="M76.30 415.70H80.50M76.30 416.58H80.50" stroke="#000" stroke-width="1.0" fill="none"/>
<path d="M75.40 413.14L81.40 419.14M75.40 419.14L81.40 413.14" stroke="#8c8c8c" stroke-width="0.8" fill="none"/>
<path d="M95.24 451.10V451.98" stroke="#000" stroke-width="0.6" fill="none"/>
<path d="M93.14 451.10H97.34M93.14 451.98H97.34" stroke="#000" stroke-width="1.0" fill="none"/>
<path d="M92.24 448.54L98.24 454.54M92.24 454.54L98.24 448.54" stroke="#8c8c8c" stroke-width="0.8" fill="none"/>
<path d="M112.08 464.02V464.90" stroke="#000" stroke-width="0.6" fill="none"/>
<path d="M109.98 464.02H114.18M109.98 464.90H114.18" stroke="#000" stroke-width="1.0" fill="none"/>
<path d="M109.08 461.46L115.08 467.46M109.08 467.46L115.08 461.46" stroke="#8c8c8c" stroke-width="0.8" fill="none"/>
<path d="M128.92 474.42V475.38" stroke="#000" stroke-width="0.6" fill="none"/>
<path d="M126.82 474.42H131.02M126.82 475.38H131.02" stroke="#000" stroke-width="1.0" fill="none"/>
<path d="M125.92 471.90L131.92 477.90M125.92 477.90L131.92 471.90" stroke="#8c8c8c" stroke-width="0.8" fill="none"/>
<path d="M145.76 477.32V478.28" stroke="#000" stroke-width="0.6" fill="none"/>
<path d="M143.66 477.32H147.86M143.66 478.28H147.86" stroke="#000" stroke-width="1.0" fill="none"/>
<path d="M142.76 474.80L148.76 480.80M142.76 480.80L148.76 474.80" stroke="#8c8c8c" stroke-width="0.8" fill="none"/>
<path d="M159.60 477.70L165.60 483.70M159.60 483.70L165.60 477.70" stroke="#8c8c8c" stroke-width="0.8" fill="none"/>
<path d="M176.44 480.62L182.44 486.62M176.44 486.62L182.44 480.62" stroke="#8c8c8c" stroke-width="0.8" fill="none"/>
<path d="M196.28 484.82V485.78" stroke="#000" stroke-width="0.6" fill="none"/>
<path d="M194.18 484.82H198.38M194.18 485.78H198.38" stroke="#000" stroke-width="1.0" fill="none"/>
<path d="M193.28 482.30L199.28 488.30M193.28 488.30L199.28 482.30" stroke="#8c8c8c" stroke-width="0.8" fill="none"/>
<path d="M213.12 485.66V486.62" stroke="#000" stroke-width="0.6" fill="none"/>
<path d="M211.02 485.66H215.22M211.02 486.62H215.22" stroke="#000" stroke-width="1.0" fill="none"/>
<path d="M210.12 483.14L216.12 489.14M210.12 489.14L216.12 483.14" stroke="#8c8c8c" stroke-width="0.8" fill="none"/>
<path d="M229.96 486.10V486.98" stroke="#000" stroke-width="0.6" fill="none"/>
<path d="M227.86 486.10H232.06M227.86 486.98H232.06" stroke="#000" stroke-width="1.0" fill="none"/>
<path d="M226.96 483.54L232.96 489.54M226.96 489.54L232.96 483.54" stroke="#8c8c8c" stroke-width="0.8" fill="none"/>
<path d="M246.80 486.10V486.98" stroke="#000" stroke-width="0.6" fill="none"/>
<path d="M244.70 486.10H248.90M244.70 486.98H248.90" stroke="#000" stroke-width="1.0" fill="none"/>
<path d="M243.80 483.54L249.80 489.54M243.80 489.54L249.80 483.54" stroke="#8c8c8c" stroke-width="0.8" fill="none"/>
<path d="M260.64 485.22L266.64 491.22M260.64 491.22L266.64 485.22" stroke="#8c8c8c" stroke-width="0.8" fill="none"/>
<path d="M277.48 486.06L283.48 492.06M277.48 492.06L283.48 486.06" stroke="#8c8c8c" stroke-width="0.8" fill="none"/>
<path d="M311.16 485.22L317.16 491.22M311.16 491.22L317.16 485.22" stroke="#8c8c8c" stroke-width="0.8" fill="none"/>
<path d="M344.84 486.50L350.84 492.50M344.84 492.50L350.84 486.50" stroke="#8c8c8c" stroke-width="0.8" fill="none"/>
<path d="M381.52 489.50V490.38" stroke="#000" stroke-width="0.6" fill="none"/>
<path d="M379.42 489.50H383.62M379.42 490.38H383.62" stroke="#000" stroke-width="1.0" fill="none"/>
<path d="M378.52 486.94L384.52 492.94M378.52 492.94L384.52 486.94" stroke="#8c8c8c" stroke-width="0.8" fill="none"/>
<path d="M412.20 487.82L418.20 493.82M412.20 493.82L418.20 487.82" stroke="#8c8c8c" stroke-width="0.8" fill="none"/>
<path d="M445.88 488.26L451.88 494.26M445.88 494.26L451.88 488.26" stroke="#8c8c8c" stroke-width="0.8" fill="none"/>
<path d="M479.56 487.82L485.56 493.82M479.56 493.82L485.56 487.82" stroke="#8c8c8c" stroke-width="0.8" fill="none"/>
<path d="M78.40 446.10V446.90" stroke="#000" stroke-width="0.6" fill="none"/>
<path d="M76.30 446.10H80.50M76.30 446.90H80.50" stroke="#000" stroke-width="1.0" fill="none"/>
<path d="M75.90 446.50H80.90M78.40 444.00V449.00" stroke="#e4e4e4" stroke-width="0.8" fill="none"/>
<path d="M92.74 465.70H97.74M95.24 463.20V468.20" stroke="#e4e4e4" stroke-width="0.8" fill="none"/>
<path d="M112.08 478.66V479.46" stroke="#000" stroke-width="0.6" fill="none"/>
<path d="M109.98 478.66H114.18M109.98 479.46H114.18" stroke="#000" stroke-width="1.0" fill="none"/>
<path d="M109.58 479.06H114.58M112.08 476.56V481.56" stroke="#e4e4e4" stroke-width="0.8" fill="none"/>
<path d="M128.92 483.82V485.10" stroke="#000" stroke-width="0.6" fill="none"/>
<path d="M127.22 483.82H130.62M127.22 485.10H130.62" stroke="#000" stroke-width="1.25" fill="none"/>
<path d="M126.42 484.46H131.42M128.92 481.96V486.96" stroke="#e4e4e4" stroke-width="0.8" fill="none"/>
<path d="M145.76 485.74V486.54" stroke="#000" stroke-width="0.6" fill="none"/>
<path d="M143.66 485.74H147.86M143.66 486.54H147.86" stroke="#000" stroke-width="1.0" fill="none"/>
<path d="M143.26 486.14H148.26M145.76 483.64V488.64" stroke="#e4e4e4" stroke-width="0.8" fill="none"/>
<path d="M160.10 488.62H165.10M162.60 486.12V491.12" stroke="#e4e4e4" stroke-width="0.8" fill="none"/>
<path d="M176.94 489.46H181.94M179.44 486.96V491.96" stroke="#e4e4e4" stroke-width="0.8" fill="none"/>
<path d="M196.28 488.98V490.02" stroke="#000" stroke-width="0.6" fill="none"/>
<path d="M194.18 488.98H198.38M194.18 490.02H198.38" stroke="#000" stroke-width="1.0" fill="none"/>
<path d="M193.78 489.50H198.78M196.28 487.00V492.00" stroke="#e4e4e4" stroke-width="0.8" fill="none"/>
<path d="M213.12 489.86V490.74" stroke="#000" stroke-width="0.6" fill="none"/>
<path d="M211.02 489.86H215.22M211.02 490.74H215.22" stroke="#000" stroke-width="1.0" fill="none"/>
<path d="M210.62 490.30H215.62M213.12 487.80V492.80" stroke="#e4e4e4" stroke-width="0.8" fill="none"/>
<path d="M229.96 489.86V490.74" stroke="#000" stroke-width="0.6" fill="none"/>
<path d="M227.86 489.86H232.06M227.86 490.74H232.06" stroke="#000" stroke-width="1.0" fill="none"/>
<path d="M227.46 490.30H232.46M229.96 487.80V492.80" stroke="#e4e4e4" stroke-width="0.8" fill="none"/>
<path d="M246.80 489.86V490.74" stroke="#000" stroke-width="0.6" fill="none"/>
<path d="M244.70 489.86H248.90M244.70 490.74H248.90" stroke="#000" stroke-width="1.0" fill="none"/>
<path d="M244.30 490.30H249.30M246.80 487.80V492.80" stroke="#e4e4e4" stroke-width="0.8" fill="none"/>
<path d="M263.64 490.66V491.54" stroke="#000" stroke-width="0.6" fill="none"/>
<path d="M261.54 490.66H265.74M261.54 491.54H265.74" stroke="#000" stroke-width="1.0" fill="none"/>
<path d="M261.14 491.10H266.14M263.64 488.60V493.60" stroke="#e4e4e4" stroke-width="0.8" fill="none"/>
<path d="M94.40 284.40L97.10 287.10L94.40 289.80L91.70 287.10Z" fill="#5c5c5c"/>
<text x="100.00" y="290.40" class="lg">BSA</text>
<rect x="221.50" y="284.20" width="5.80" height="5.80" fill="#b6b6b6"/>
<text x="230.00" y="290.40" class="lg">BSA + GO 50 mM</text>
<path d="M354.90 284.30L357.70 289.90H352.10Z" fill="#8e8e8e"/>
<text x="360.50" y="290.40" class="lg">BSA + GO 100 mM</text>
<path d="M91.60 301.70L97.20 307.30M91.60 307.30L97.20 301.70" stroke="#8c8c8c" stroke-width="0.8" fill="none"/>
<text x="100.00" y="307.80" class="lg">BSA + MGO 50 mM</text>
<path d="M221.60 304.50H227.20M224.40 301.70V307.30" stroke="#efefef" stroke-width="0.8" fill="none"/>
<text x="230.00" y="307.80" class="lg">BSA + MGO 100 mM</text>
<text x="490.3" y="281.0" class="pl">B</text>
</g>
</svg>
</body>
</html>
